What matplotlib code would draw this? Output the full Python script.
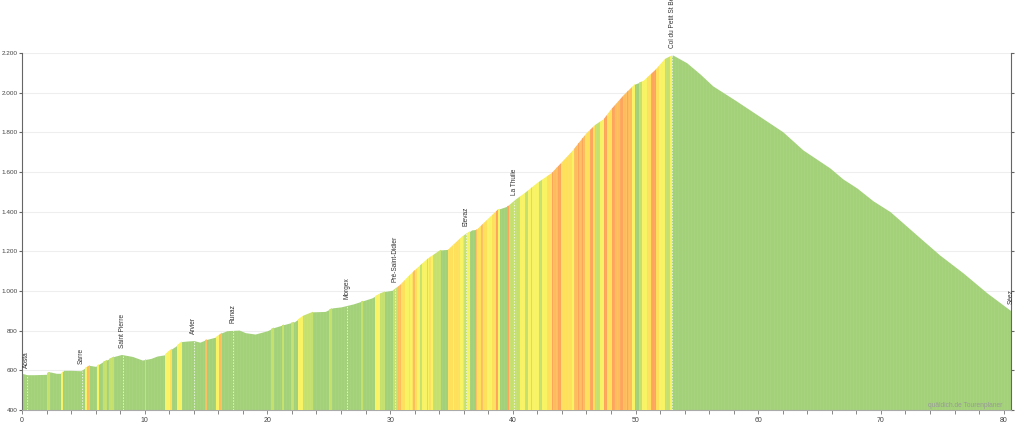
import matplotlib
matplotlib.use('Agg')
import matplotlib.pyplot as plt

# Perfil de altura: km y metros
profile_km = [0, 0.4, 1, 2, 2.1, 2.3, 2.8, 3.2, 3.4, 4, 4.8, 5.2, 5.5, 6, 6.5, 7, 7.5, 8.1, 9, 9.8,
              10.5, 11, 11.6, 12, 12.6, 13, 13.5, 14, 14.5, 15, 15.8, 16.3, 16.7, 17.7, 18.2, 19,
              20, 20.5, 21.3, 22.2, 22.9, 23.7, 24.7, 25.3, 26, 27, 28.5, 29.18, 29.6, 30.26, 30.8,
              31.5, 32.17, 33, 34.1, 34.75, 35.85, 36.65, 37.1, 38, 38.8, 39.65, 40.3, 41, 42, 43.17,
              44.8, 46, 46.7, 47.4, 48, 49, 49.96, 50.64, 51.6, 52.4, 53.03, 54.17, 55.26, 56.3,
              58.1, 60.15, 62, 63.65, 65.85, 66.9, 68.05, 69.35, 70.75, 73.2, 74.8, 76.7, 78.65, 80.6]
profile_m = [585, 578, 578, 580, 590, 592, 585, 585, 600, 600, 598, 615, 625, 620, 640, 655, 670, 680, 670, 652,
             660, 672, 678, 700, 725, 745, 748, 750, 742, 755, 768, 790, 800, 803, 790, 783,
             800, 815, 830, 845, 875, 895, 897, 915, 920, 935, 965, 988, 998, 1005, 1030,
             1075, 1114, 1160, 1207, 1210, 1274, 1308, 1311, 1365, 1412, 1430, 1464, 1495, 1545, 1595,
             1702, 1795, 1837, 1866, 1915, 1985, 2044, 2059, 2114, 2170, 2190, 2151, 2094, 2034,
             1963, 1879, 1803, 1711, 1620, 1565, 1519, 1455, 1400, 1267, 1181, 1091, 990, 900]

# Tramos de pendiente: inicio, fin y clase (los ultimos son rayas finas encima)
band_start = [2.0, 3.2, 5.1, 5.3, 6.1, 6.6, 7.1, 10.0, 11.65, 12.1, 12.6, 14.9, 15.8, 16.05, 20.3, 21.2, 21.9,
              22.5, 22.9, 25.0, 27.6, 28.8, 29.18, 30.25, 30.65, 30.9, 31.2, 31.5, 31.6, 31.75, 32.2, 32.7,
              33.5, 34.7, 35.7, 35.95, 36.05, 36.3, 37.1, 37.4, 37.6, 37.9, 38.3, 38.6, 38.8, 39.55, 39.7,
              40.05, 40.6, 41.0, 41.25, 41.8, 42.1, 42.35, 42.75, 43.2, 43.3, 43.7, 43.9, 44.25, 44.5, 44.8,
              44.95, 45.9, 46.3, 46.55, 46.7, 47.1, 47.4, 47.7, 48.05, 48.35, 48.75, 49.0, 49.7, 50.3, 50.55,
              50.9, 51.25, 51.65, 51.95, 52.4, 52.8,
              31.9, 32.45, 33.0, 33.2, 35.1, 37.0, 45.3, 45.6, 49.3, 41.5, 43.5]
band_end = [2.3, 3.35, 5.3, 5.55, 6.3, 6.9, 7.5, 10.1, 12.1, 12.25, 13.0, 15.05, 16.05, 16.3, 20.5, 21.35, 22.2,
            22.9, 23.7, 25.3, 27.8, 29.18, 29.6, 30.65, 30.9, 31.2, 31.5, 31.6, 31.75, 32.2, 32.7, 33.5,
            34.15, 35.7, 35.95, 36.05, 36.3, 36.55, 37.4, 37.6, 37.9, 38.3, 38.6, 38.8, 38.95, 39.7, 40.05,
            40.6, 41.0, 41.25, 41.8, 42.1, 42.35, 42.75, 43.2, 43.3, 43.7, 43.9, 44.25, 44.5, 44.8, 44.95,
            45.9, 46.3, 46.55, 46.7, 47.1, 47.4, 47.7, 48.05, 48.35, 48.75, 49.0, 49.7, 49.95, 50.55, 50.9,
            51.25, 51.65, 51.95, 52.4, 52.8, 53.0,
            32.05, 32.6, 33.1, 33.3, 35.2, 37.1, 45.42, 45.72, 49.42, 41.6, 43.6]
band_class = ['l', 'y', 'y', 'o', 'y', 'l', 'l', 'l', 'y', 'a', 'y', 'o', 'y', 'o', 'l', 'l', 'l',
              'y', 'l', 'l', 'l', 'y', 'l', 'l', 'o', 'a', 'y', 'a', 'y', 'a', 'y', 'y',
              'l', 'a', 'y', 'a', 'l', 'y', 'a', 'o', 'a', 'y', 'a', 'r', 'y', 'r', 'l',
              'l', 'y', 'l', 'y', 'y', 'l', 'y', 'a', 'r', 'o', 'r', 'a', 'a', 'a', 'y',
              'o', 'a', 'r', 'a', 'l', 'y', 'r', 'a', 'r', 'o', 'r', 'o', 'y', 'l', 'y',
              'a', 'r', 'a', 'y', 'l', 'y',
              'o', 'l', 'l', 'a', 'y', 'o', 'r', 'r', 'r', 'l', 'o']
class_colors = {'l': '#c6e06e', 'y': '#f8f362', 'a': '#fee05a', 'o': '#fdbd5c', 'r': '#fda55a'}

# Lugares del recorrido
place_names = ['Aosta', 'Sarre', 'Saint Pierre', 'Arvier', 'Runaz', 'Morgex', 'Pré-Saint-Didier',
               'Elevaz', 'La Thuile', 'Col du Petit St Bernard', 'Séez']
place_km = [0.4, 4.85, 8.2, 14, 17.2, 26.5, 30.4, 36.2, 40.1, 53.0, 80.6]
place_m = [578, 598, 680, 750, 802, 925, 1008, 1295, 1450, 2190, 900]

y_ticks = [400, 600, 800, 1000, 1200, 1400, 1600, 1800, 2000, 2200]
y_labels = ['400', '600', '800', '1.000', '1.200', '1.400', '1.600', '1.800', '2.000', '2.200']
x_ticks = [0, 10, 20, 30, 40, 50, 60, 70, 80]

plt.rcParams['font.family'] = ['Liberation Sans', 'DejaVu Sans']

fig = plt.figure(figsize=(10.24, 4.3), dpi=100)
ax = fig.add_axes([22 / 1024, 20 / 430, 989 / 1024, 357 / 430])

ax.set_xlim(0, 80.6)
ax.set_ylim(400, 2200)

# Relleno base y bandas recortadas al perfil
base = ax.fill_between(profile_km, profile_m, 400, color='#a3d179', lw=0, zorder=2)
clip = base.get_paths()[0]
for start, end, cls in zip(band_start, band_end, band_class):
    span = ax.axvspan(start, end, color=class_colors[cls], lw=0, zorder=3)
    span.set_clip_path(clip, base.get_transform())

# Rayas claras de cada tramo de 250 m
stripes = ax.vlines([i * 0.25 for i in range(323)], 400, 2200, color='white', lw=0.5, alpha=0.07, zorder=3.5)
stripes.set_clip_path(clip, base.get_transform())

# Marcas de lugares
for name, km, m in zip(place_names, place_km, place_m):
    ax.vlines(km, 400, m, color='white', lw=0.7, ls=(0, (1.5, 1.5)), alpha=0.7, zorder=4)
    ax.annotate(name, (km, m), xytext=(0, 5), textcoords='offset points', rotation=90,
                ha='center', va='bottom', fontsize=4.7, color='#333333', annotation_clip=False, zorder=6)

ax.text(79.9, 425, 'quäldich.de Tourenplaner', ha='right', va='center', fontsize=4.8, color='#999999', zorder=5)

# Ejes
ax.set_yticks(y_ticks)
ax.set_yticklabels(y_labels)
ax.set_xticks(x_ticks)
ax.set_xticks(range(0, 81, 2), minor=True)
ax.grid(True, axis='y', color='#eeeeee', lw=0.8, zorder=0)
ax.set_axisbelow(True)
ax.tick_params(axis='y', length=2.5, width=0.8, color='#666666', labelsize=4.6, labelcolor='#444444', pad=0.5)
ax.tick_params(axis='x', which='major', length=3, width=0.7, color='#888888', labelsize=5, labelcolor='#444444', pad=2)
ax.tick_params(axis='x', which='minor', length=3, width=0.7, color='#888888')
ax.tick_params(axis='y', right=True)

ax.spines['top'].set_visible(False)
ax.spines['left'].set_color('#666666')
ax.spines['right'].set_color('#666666')
ax.spines['bottom'].set_color('#aaaaaa')

fig.savefig('out.png', dpi=100)
